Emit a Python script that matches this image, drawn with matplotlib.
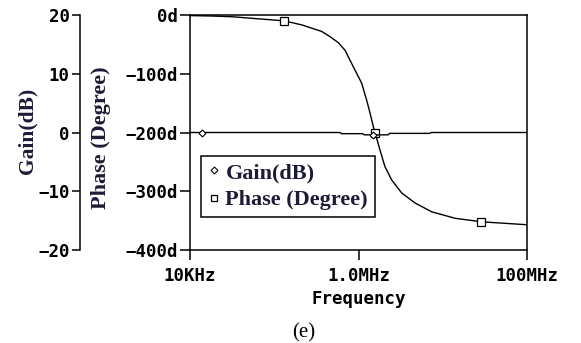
import numpy as np
import matplotlib
matplotlib.use("Agg")
import matplotlib.pyplot as plt
from matplotlib.lines import Line2D

# phase curve (Hz, degrees)
phase_freq = [10e3, 18e3, 32e3, 54e3, 132e3, 214e3, 366e3, 460e3, 575e3,
              692e3, 867e3, 1.09e6, 1.25e6, 1.37e6, 1.50e6, 1.57e6, 1.80e6,
              2.06e6, 2.48e6, 3.26e6, 4.69e6, 7.4e6, 14e6, 28.8e6, 100e6]
phase_deg = [-1, -1.7, -3, -5.6, -10, -17, -28, -37, -47,
             -60, -88, -116, -145, -167, -190, -200, -230,
             -258, -281, -303, -320, -335, -346, -352, -357]
phase_marks = [4, 15, 23]

# gain curve (Hz, dB)
gain_freq = [10e3, 14e3, 100e3, 600e3, 630e3, 1.12e6, 1.17e6, 1.48e6,
             2.24e6, 2.34e6, 7.0e6, 7.3e6, 100e6]
gain_db = [0, 0, 0, 0, -0.2, -0.2, -0.4, -0.4,
           -0.4, -0.15, -0.15, 0, 0]
gain_marks = [1, 7]

x_ticks = [1e4, 1e6, 1e8]
x_ticklabels = ["10KHz", "1.0MHz", "100MHz"]
phase_ticks = [0, -100, -200, -300, -400]
gain_ticks = [20, 10, 0, -10, -20]

mono = {"family": "DejaVu Sans Mono", "weight": "bold", "size": 12.5}
serif_col = "#1c1c36"

fig = plt.figure(figsize=(5.81, 3.43), dpi=100)
ax = fig.add_axes([190/581, 1-250/343, 337/581, 235/343])
ax2 = ax.twinx()

ax.plot(phase_freq, phase_deg, color="black", lw=1.0,
        marker="s", markevery=phase_marks, ms=5.5, mfc="white", mec="black", mew=0.9)
ax2.plot(gain_freq, gain_db, color="black", lw=1.0,
         marker="D", markevery=gain_marks, ms=3.5, mfc="white", mec="black", mew=0.8)

ax.set_xscale("log")
ax.set_xlim(1e4, 1e8)
ax.set_ylim(-400, 0)
ax2.set_ylim(-20, 20)

# gain axis sits further left
ax2.yaxis.set_ticks_position("left")
ax2.spines["left"].set_position(("outward", 79))
for s in ["right", "top", "bottom"]:
    ax2.spines[s].set_visible(False)
ax2.spines["left"].set_linewidth(1.1)
ax2.tick_params(axis="y", direction="out", length=6, width=1.1, pad=1.5)

ax.set_xticks(x_ticks)
ax.set_xticklabels(x_ticklabels, fontdict=mono)
ax.xaxis.set_minor_locator(matplotlib.ticker.NullLocator())
ax.set_yticks(phase_ticks)
ax.set_yticklabels([f"{v}d".replace("-", "\u2212") for v in phase_ticks], fontdict=mono)
ax2.set_yticks(gain_ticks)
ax2.set_yticklabels([f"{v}".replace("-", "\u2212") for v in gain_ticks], fontdict=mono)

ax.tick_params(axis="both", direction="out", length=7, width=1.1, pad=1.5)
ax.tick_params(axis="x", pad=5)

for s in ax.spines.values():
    s.set_linewidth(1.1)

ax.set_xlabel("Frequency", fontdict=mono, labelpad=4)

fig.text(27/581, 1-131/343, "Gain(dB)", rotation=90, ha="center", va="center",
         family="Liberation Serif", weight="bold", size=15.5, color=serif_col)
fig.text(101/581, 1-138/343, "Phase (Degree)", rotation=90, ha="center", va="center",
         family="Liberation Serif", weight="bold", size=16, color=serif_col)
fig.text(304/581, 1-333/343, "(e)", ha="center", va="center",
         family="Liberation Serif", size=15, color="black")

handles = [
    Line2D([], [], ls="none", marker="D", ms=3.5, mfc="white", mec="black", mew=0.8),
    Line2D([], [], ls="none", marker="s", ms=5, mfc="white", mec="black", mew=0.9),
]
leg = ax2.legend(handles, ["Gain(dB)", "Phase (Degree)"], loc="upper left",
                 bbox_to_anchor=(11/337, 94/235), fancybox=False, framealpha=1,
                 edgecolor="black", handlelength=0.6, handletextpad=0.2,
                 borderpad=0.3, labelspacing=0.3, borderaxespad=0,
                 prop={"family": "Liberation Serif", "weight": "bold", "size": 16})
leg.get_frame().set_linewidth(1.1)
for t in leg.get_texts():
    t.set_color(serif_col)

fig.savefig("out.png", dpi=100)
